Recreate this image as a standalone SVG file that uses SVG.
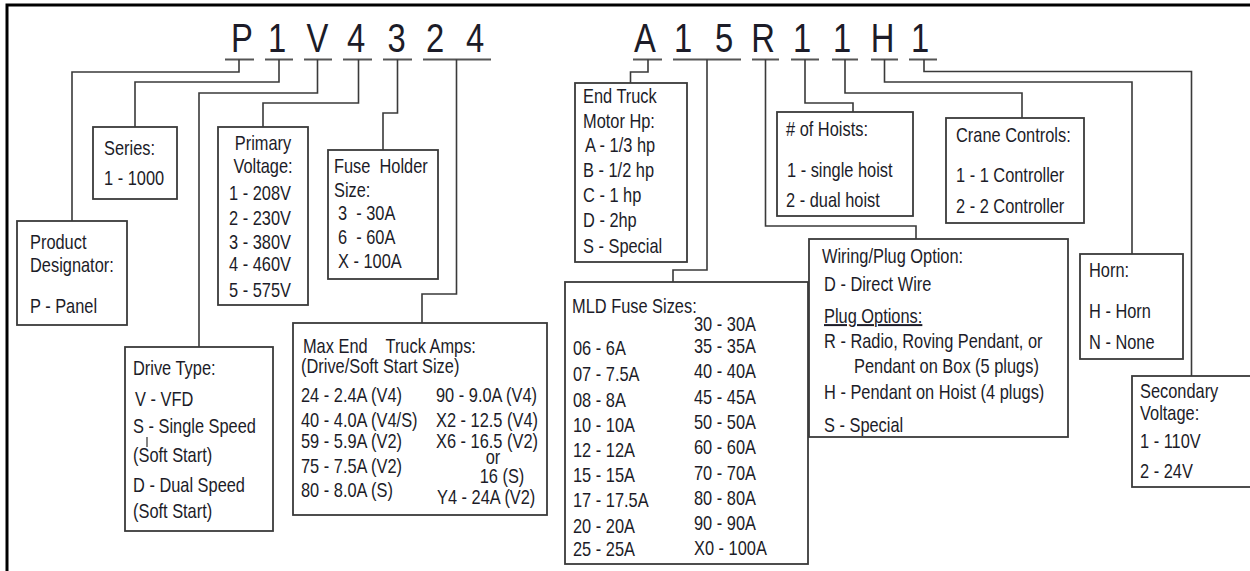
<svg xmlns="http://www.w3.org/2000/svg" width="1250" height="571" viewBox="0 0 1250 571">
<style>
.t{font-family:"Liberation Sans Narrow","Liberation Sans",Arial,sans-serif;font-size:20px;fill:#1c1c28}
.c{font-size:40px;text-anchor:middle}
.m{text-anchor:middle}
.p{white-space:pre}
.box{fill:#fff;stroke:#3a3a3a;stroke-width:1.8}
.conn{fill:none;stroke:#3a3a3a;stroke-width:1.6}
.ul{stroke:#555;stroke-width:2}
</style>
<rect width="1250" height="571" fill="#fff"/>
<path d="M7,571 V5 H1250" fill="none" stroke="#000" stroke-width="3"/>
<g id="code">
<text class="t c" transform="translate(242 52) scale(.82 1)">P</text>
<text class="t c" transform="translate(277 52) scale(.82 1)">1</text>
<text class="t c" transform="translate(317.5 52) scale(.82 1)">V</text>
<text class="t c" transform="translate(356 52) scale(.82 1)">4</text>
<text class="t c" transform="translate(396.5 52) scale(.82 1)">3</text>
<text class="t c" transform="translate(435 52) scale(.82 1)">2</text>
<text class="t c" transform="translate(475 52) scale(.82 1)">4</text>
<text class="t c" transform="translate(645 52) scale(.82 1)">A</text>
<text class="t c" transform="translate(683 52) scale(.82 1)">1</text>
<text class="t c" transform="translate(724 52) scale(.82 1)">5</text>
<text class="t c" transform="translate(763 52) scale(.82 1)">R</text>
<text class="t c" transform="translate(802 52) scale(.82 1)">1</text>
<text class="t c" transform="translate(842 52) scale(.82 1)">1</text>
<text class="t c" transform="translate(882.5 52) scale(.82 1)">H</text>
<text class="t c" transform="translate(920 52) scale(.82 1)">1</text>
</g>
<g id="connectors">
<g class="ul">
<line x1="225" y1="59.5" x2="254" y2="59.5"/>
<line x1="265" y1="59.5" x2="293" y2="59.5"/>
<line x1="304" y1="59.5" x2="332" y2="59.5"/>
<line x1="343" y1="59.5" x2="372" y2="59.5"/>
<line x1="383" y1="59.5" x2="412" y2="59.5"/>
<line x1="423" y1="59.5" x2="491" y2="59.5"/>
<line x1="633" y1="59.5" x2="662" y2="59.5"/>
<line x1="673" y1="59.5" x2="741" y2="59.5"/>
<line x1="752" y1="59.5" x2="779" y2="59.5"/>
<line x1="791" y1="59.5" x2="819" y2="59.5"/>
<line x1="832" y1="59.5" x2="858" y2="59.5"/>
<line x1="871" y1="59.5" x2="898" y2="59.5"/>
<line x1="909" y1="59.5" x2="937" y2="59.5"/>
</g>
<g class="conn">
<polyline points="239,59.5 239,72 72,72 72,221"/>
<polyline points="279,59.5 279,82 135,82 135,127"/>
<polyline points="317.5,59.5 317.5,93 199,93 199,347"/>
<polyline points="358.5,59.5 358.5,103 263,103 263,127"/>
<polyline points="397.5,59.5 397.5,113 383,113 383,150"/>
<polyline points="456.5,59.5 456.5,294 422,294 422,323"/>
<polyline points="648,59.5 648,72 630.5,72 630.5,83"/>
<polyline points="707,59.5 707,270 673,270 673,282"/>
<polyline points="765.5,59.5 765.5,226 916,226 916,239"/>
<polyline points="805,59.5 805,103 853,103 853,112"/>
<polyline points="845,59.5 845,93 1022,93 1022,118"/>
<polyline points="884.5,59.5 884.5,82 1132,82 1132,254"/>
<polyline points="924,59.5 924,71.5 1191.5,71.5 1191.5,376"/>
</g>
</g>
<g id="product-designator">
<rect class="box" x="17" y="221" width="110" height="104"/>
<text class="t" transform="translate(30 249) scale(.82 1)">Product</text>
<text class="t" transform="translate(30 272) scale(.82 1)">Designator:</text>
<text class="t" transform="translate(30 313) scale(.82 1)">P - Panel</text>
</g>
<g id="series">
<rect class="box" x="93" y="127" width="84" height="72"/>
<text class="t" transform="translate(104 155) scale(.82 1)">Series:</text>
<text class="t" transform="translate(104 185) scale(.82 1)">1 - 1000</text>
</g>
<g id="primary-voltage">
<rect class="box" x="218" y="127" width="90" height="178"/>
<text class="t m" transform="translate(263 150) scale(.82 1)">Primary</text>
<text class="t m" transform="translate(263 173) scale(.82 1)">Voltage:</text>
<text class="t" transform="translate(229 200) scale(.82 1)">1 - 208V</text>
<text class="t" transform="translate(229 225) scale(.82 1)">2 - 230V</text>
<text class="t" transform="translate(229 249) scale(.82 1)">3 - 380V</text>
<text class="t" transform="translate(229 271) scale(.82 1)">4 - 460V</text>
<text class="t" transform="translate(229 297) scale(.82 1)">5 - 575V</text>
</g>
<g id="fuse-holder">
<rect class="box" x="328" y="150" width="110" height="129"/>
<text class="t p" transform="translate(334 173) scale(.82 1)">Fuse  Holder</text>
<text class="t" transform="translate(334 197) scale(.82 1)">Size:</text>
<text class="t p" transform="translate(338 220) scale(.82 1)">3  - 30A</text>
<text class="t p" transform="translate(338 244) scale(.82 1)">6  - 60A</text>
<text class="t" transform="translate(338 268) scale(.82 1)">X - 100A</text>
</g>
<g id="drive-type">
<rect class="box" x="125" y="347" width="148" height="184"/>
<text class="t" transform="translate(133 375) scale(.82 1)">Drive Type:</text>
<text class="t" transform="translate(135 406) scale(.82 1)">V - VFD</text>
<text class="t" transform="translate(133 433) scale(.82 1)">S - Single Speed</text>
<text class="t" transform="translate(133 462) scale(.82 1)">(Soft Start)</text>
<text class="t" transform="translate(133 492) scale(.82 1)">D - Dual Speed</text>
<text class="t" transform="translate(133 518) scale(.82 1)">(Soft Start)</text>
<line x1="147" y1="437" x2="147" y2="447" stroke="#333" stroke-width="1.2"/>
</g>
<g id="max-end-truck-amps">
<rect class="box" x="293" y="323" width="254" height="192"/>
<text class="t p" transform="translate(301 353) scale(.82 1)"><tspan x="2.4" y="0">Max End    Truck Amps:</tspan><tspan x="0" y="20">(Drive/Soft Start Size)</tspan></text>
<text class="t" transform="translate(301 402) scale(.82 1)">24 - 2.4A (V4)</text>
<text class="t" transform="translate(301 427) scale(.82 1)">40 - 4.0A (V4/S)</text>
<text class="t" transform="translate(301 448) scale(.82 1)">59 - 5.9A (V2)</text>
<text class="t" transform="translate(301 473) scale(.82 1)">75 - 7.5A (V2)</text>
<text class="t" transform="translate(301 497) scale(.82 1)">80 - 8.0A (S)</text>
<text class="t" transform="translate(436 402) scale(.82 1)">90 - 9.0A (V4)</text>
<text class="t" transform="translate(436 427) scale(.82 1)">X2 - 12.5 (V4)</text>
<text class="t" transform="translate(436 448) scale(.82 1)"><tspan x="0" y="0">X6 - 16.5 (V2)</tspan><tspan class="m" x="69.5" y="16">or</tspan><tspan class="m" x="80.5" y="35">16 (S)</tspan></text>
<text class="t" transform="translate(437 504) scale(.82 1)">Y4 - 24A (V2)</text>
</g>
<g id="end-truck-motor">
<rect class="box" x="575" y="83" width="112" height="179"/>
<text class="t" transform="translate(583 103) scale(.82 1)">End Truck</text>
<text class="t" transform="translate(583 128) scale(.82 1)">Motor Hp:</text>
<text class="t" transform="translate(585 152) scale(.82 1)">A - 1/3 hp</text>
<text class="t" transform="translate(583 177) scale(.82 1)">B - 1/2 hp</text>
<text class="t" transform="translate(583 202) scale(.82 1)">C - 1 hp</text>
<text class="t" transform="translate(583 227) scale(.82 1)">D - 2hp</text>
<text class="t" transform="translate(583 253) scale(.82 1)">S - Special</text>
</g>
<g id="mld-fuse-sizes">
<rect class="box" x="565" y="282" width="243" height="282"/>
<text class="t" transform="translate(572 313) scale(.82 1)">MLD Fuse Sizes:</text>
<text class="t" transform="translate(573 355) scale(.82 1)">06 - 6A</text>
<text class="t" transform="translate(573 381) scale(.82 1)">07 - 7.5A</text>
<text class="t" transform="translate(573 407) scale(.82 1)">08 - 8A</text>
<text class="t" transform="translate(573 432) scale(.82 1)">10 - 10A</text>
<text class="t" transform="translate(573 457) scale(.82 1)">12 - 12A</text>
<text class="t" transform="translate(573 482) scale(.82 1)">15 - 15A</text>
<text class="t" transform="translate(573 507) scale(.82 1)">17 - 17.5A</text>
<text class="t" transform="translate(573 533) scale(.82 1)">20 - 20A</text>
<text class="t" transform="translate(573 556) scale(.82 1)">25 - 25A</text>
<text class="t" transform="translate(694 331) scale(.82 1)">30 - 30A</text>
<text class="t" transform="translate(694 353) scale(.82 1)">35 - 35A</text>
<text class="t" transform="translate(694 378) scale(.82 1)">40 - 40A</text>
<text class="t" transform="translate(694 404) scale(.82 1)">45 - 45A</text>
<text class="t" transform="translate(694 429) scale(.82 1)">50 - 50A</text>
<text class="t" transform="translate(694 454) scale(.82 1)">60 - 60A</text>
<text class="t" transform="translate(694 480) scale(.82 1)">70 - 70A</text>
<text class="t" transform="translate(694 505) scale(.82 1)">80 - 80A</text>
<text class="t" transform="translate(694 530) scale(.82 1)">90 - 90A</text>
<text class="t" transform="translate(694 555) scale(.82 1)">X0 - 100A</text>
</g>
<g id="hoists">
<rect class="box" x="777" y="112" width="136" height="104"/>
<text class="t" transform="translate(786 136) scale(.82 1)"># of Hoists:</text>
<text class="t" transform="translate(787 177) scale(.82 1)">1 - single hoist</text>
<text class="t" transform="translate(786 207) scale(.82 1)">2 - dual hoist</text>
</g>
<g id="crane-controls">
<rect class="box" x="946" y="118" width="138" height="105"/>
<text class="t" transform="translate(956 142) scale(.82 1)">Crane Controls:</text>
<text class="t" transform="translate(956 182) scale(.82 1)">1 - 1 Controller</text>
<text class="t" transform="translate(956 213) scale(.82 1)">2 - 2 Controller</text>
</g>
<g id="wiring-plug">
<rect class="box" x="809" y="239" width="259" height="198"/>
<text class="t" transform="translate(822 263) scale(.82 1)">Wiring/Plug Option:</text>
<text class="t" transform="translate(824 291) scale(.82 1)">D - Direct Wire</text>
<text class="t" transform="translate(824 323) scale(.82 1)" text-decoration="underline">Plug Options:</text>
<text class="t" transform="translate(824 348) scale(.82 1)">R - Radio, Roving Pendant, or</text>
<text class="t" transform="translate(854 373) scale(.82 1)">Pendant on Box (5 plugs)</text>
<text class="t" transform="translate(824 399) scale(.82 1)">H - Pendant on Hoist (4 plugs)</text>
<text class="t" transform="translate(824 432) scale(.82 1)">S - Special</text>
</g>
<g id="horn">
<rect class="box" x="1080" y="254" width="103" height="105"/>
<text class="t" transform="translate(1089 277) scale(.82 1)">Horn:</text>
<text class="t" transform="translate(1089 318) scale(.82 1)">H - Horn</text>
<text class="t" transform="translate(1089 349) scale(.82 1)">N - None</text>
</g>
<g id="secondary-voltage">
<rect class="box" x="1132" y="376" width="130" height="111"/>
<text class="t" transform="translate(1140 398) scale(.82 1)">Secondary</text>
<text class="t" transform="translate(1140 420) scale(.82 1)">Voltage:</text>
<text class="t" transform="translate(1140 448) scale(.82 1)">1 - 110V</text>
<text class="t" transform="translate(1140 478) scale(.82 1)">2 - 24V</text>
</g>
</svg>
